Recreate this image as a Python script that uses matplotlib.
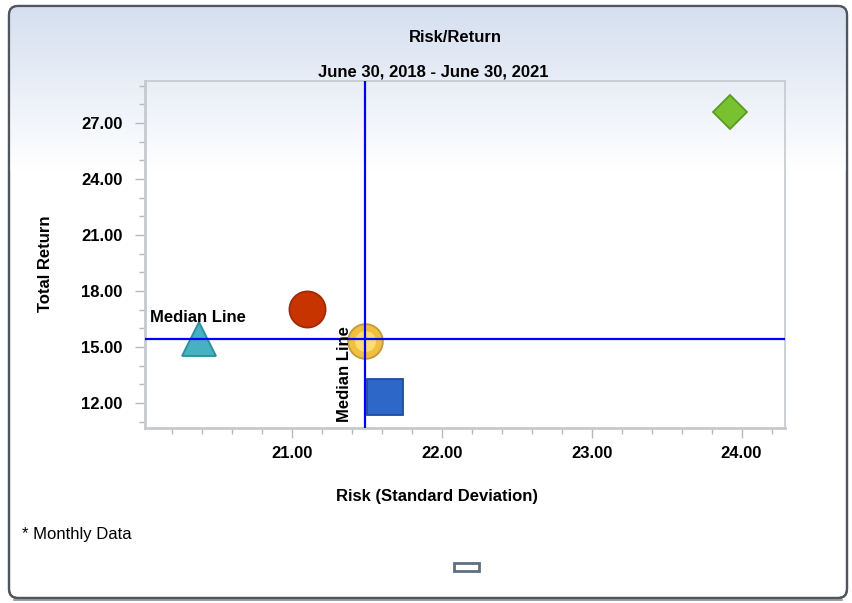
import numpy as np
import matplotlib
matplotlib.use("Agg")
import matplotlib.pyplot as plt
from matplotlib.patches import FancyBboxPatch, Rectangle
from matplotlib.ticker import MultipleLocator, FixedLocator, FuncFormatter
import matplotlib.transforms as mtransforms

plt.rcParams['font.family'] = ['Liberation Sans', 'DejaVu Sans']

# ---- data ----
risk = [20.38, 21.10, 21.49, 21.62, 23.92]
ret = [15.43, 17.04, 15.32, 12.32, 27.59]
markers = ['^', 'o', 'o', 's', 'D']
face_colors = ['#45b1c1', '#c83400', '#f2c040', '#2d68c8', '#78c232']
edge_colors = ['#2a8d9b', '#a12a00', '#c49a3a', '#1d4c9a', '#5a9a1e']
highlight_colors = [None, None, '#fbe27a', None, None]
marker_sizes = [24, 26, 25, 26.5, 17.3]
x_ticks = [21.0, 22.0, 23.0, 24.0]
y_ticks = [12.0, 15.0, 18.0, 21.0, 24.0, 27.0]
median_x = 21.49
median_y = 15.43
title = "Risk/Return"
subtitle = "June 30, 2018 - June 30, 2021"
x_label = "Risk (Standard Deviation)"
y_label = "Total Return"
footnote = "* Monthly Data"
median_label = "Median Line"

W, H = 852, 603
fig = plt.figure(figsize=(W / 100, H / 100), dpi=100)
fig.patch.set_facecolor('white')

def fx(px):
    return px / W

def fy(py):
    return 1 - py / H

# ---- background frame with gradient ----
bg = fig.add_axes([0, 0, 1, 1], zorder=-5)
bg.set_xlim(0, W)
bg.set_ylim(H, 0)
bg.axis('off')
grad = np.linspace(0, 1, 256)
top = np.array([0.835, 0.875, 0.94])
bot = np.array([1.0, 1.0, 1.0])
g_end = 170
img = np.zeros((256, 1, 3))
for i, t in enumerate(grad):
    img[i, 0, :] = top + (bot - top) * t
frame = FancyBboxPatch((9, 6), 838, 592, boxstyle="round,pad=0,rounding_size=9",
                       transform=bg.transData, facecolor='white',
                       edgecolor='#50565e', linewidth=1.6, zorder=1)
bg.add_patch(frame)
im = bg.imshow(img, extent=(9, 847, g_end, 6), aspect='auto', zorder=2,
               interpolation='bilinear')
im.set_clip_path(frame)
bg.plot([14, 842], [599.5, 599.5], color='#8a8f96', linewidth=1.2, zorder=2.5)
frame2 = FancyBboxPatch((9, 6), 838, 592, boxstyle="round,pad=0,rounding_size=9",
                        transform=bg.transData, facecolor='none',
                        edgecolor='#50565e', linewidth=1.6, zorder=3)
bg.add_patch(frame2)
bg.add_patch(Rectangle((454, 563), 25, 8, facecolor='white', edgecolor='#5d7082',
                       linewidth=2, zorder=4))

# ---- main axes ----
ax = fig.add_axes([fx(145), fy(428), (785 - 145) / W, (428 - 81) / H])
ax.set_facecolor('none')
ax.set_xlim(20.02, 24.29)
ax.set_ylim(10.66, 29.25)

for s in ax.spines.values():
    s.set_color('#c6c9cd')
    s.set_linewidth(1.2)
ax.spines['left'].set_linewidth(2)
ax.spines['bottom'].set_linewidth(2)

ax.xaxis.set_major_locator(FixedLocator(x_ticks))
ax.yaxis.set_major_locator(FixedLocator(y_ticks))
ax.xaxis.set_minor_locator(MultipleLocator(0.2))
ax.yaxis.set_minor_locator(MultipleLocator(1.0))
fmt = FuncFormatter(lambda v, p: f"{v:.2f}")
ax.xaxis.set_major_formatter(fmt)
ax.yaxis.set_major_formatter(fmt)
ax.tick_params(which='major', length=7, width=1, color='#b8b8b8', labelsize=12)
ax.tick_params(axis='x', which='major', pad=6)
ax.tick_params(axis='y', which='major', pad=9)
ax.tick_params(which='minor', length=4, width=1, color='#b8b8b8')
for lab in ax.get_xticklabels() + ax.get_yticklabels():
    lab.set_fontweight('bold')

# markers
for xv, yv, m, fc, ec, hc, ms in zip(risk, ret, markers, face_colors, edge_colors,
                                     highlight_colors, marker_sizes):
    ax.plot([xv], [yv], marker=m, markersize=ms, markerfacecolor=fc,
            markeredgecolor=ec, markeredgewidth=1.3, linestyle='none', zorder=3,
            clip_on=False)
    if hc is not None:
        ax.plot([xv], [yv], marker=m, markersize=ms * 0.6, markerfacecolor=hc,
                markeredgecolor='none', linestyle='none', zorder=3.1,
                alpha=0.9, clip_on=False)

# median lines (drawn over the markers)
ax.axvline(median_x, color='#0000ff', linewidth=1.6, zorder=4)
ax.axhline(median_y, color='#0000ff', linewidth=1.6, zorder=4)

# median labels
tr_h = mtransforms.blended_transform_factory(ax.transAxes, ax.transData)
off_h = mtransforms.offset_copy(tr_h, fig=fig, x=3.5, y=10, units='points')
ax.text(0.0, median_y, median_label, transform=off_h, ha='left', va='bottom',
        fontsize=12, fontweight='bold', zorder=5)
tr_v = mtransforms.blended_transform_factory(ax.transData, ax.transAxes)
off_v = mtransforms.offset_copy(tr_v, fig=fig, x=-9.5, y=4.5, units='points')
ax.text(median_x, 0.0, median_label, transform=off_v, ha='right', va='bottom',
        rotation=90, fontsize=12, fontweight='bold', zorder=5)

# titles & labels
fig.text(fx(455), fy(37), title, ha='center', va='center', fontsize=12,
         fontweight='bold')
fig.text(fx(433), fy(72), subtitle, ha='center', va='center', fontsize=12,
         fontweight='bold')
fig.text(fx(437), fy(496), x_label, ha='center', va='center', fontsize=12,
         fontweight='bold')
fig.text(fx(46), fy(264), y_label, ha='center', va='center', fontsize=12,
         fontweight='bold', rotation=90)
fig.text(fx(22), fy(534), footnote, ha='left', va='center', fontsize=12)

fig.savefig('out.png', dpi=100)
